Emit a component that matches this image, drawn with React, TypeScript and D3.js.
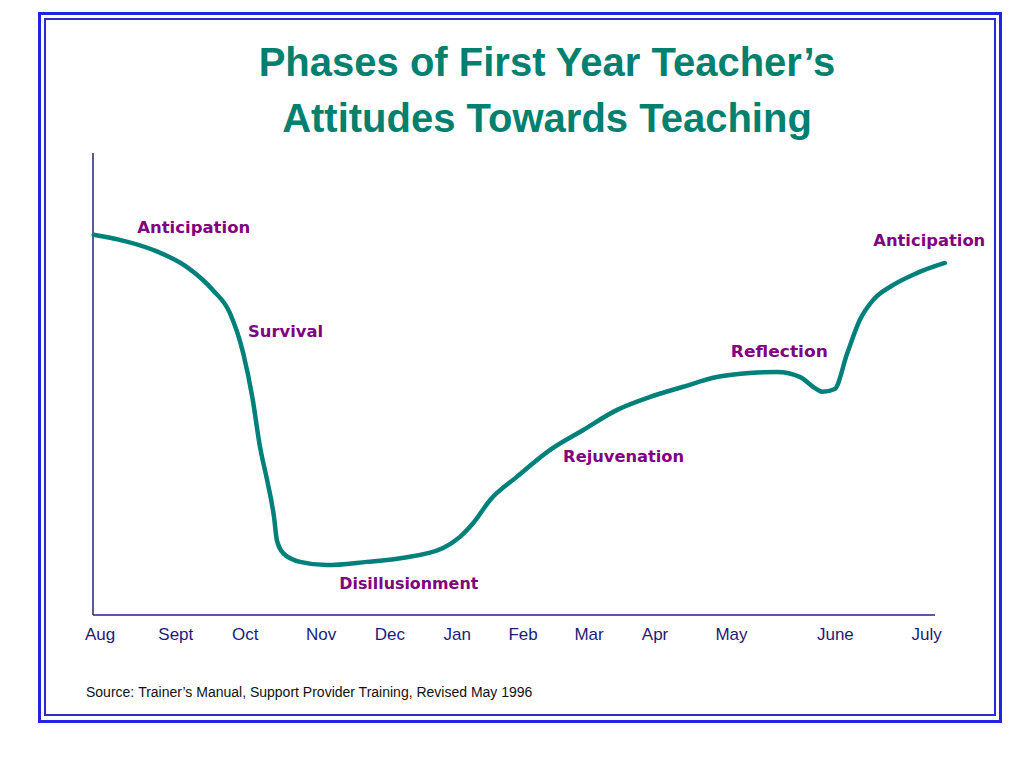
import * as d3 from 'd3'
import React from 'react'

// month labels and where they sit along the school year (in months from start)
const months = ['Aug', 'Sept', 'Oct', 'Nov', 'Dec', 'Jan', 'Feb', 'Mar', 'Apr', 'May', 'June', 'July']
const monthAt = [0.1, 1.18, 2.17, 3.25, 4.23, 5.19, 6.13, 7.07, 8.01, 9.1, 10.58, 11.88]

// attitude curve (x = months, y = attitude 0..100)
const curveX = [
  0.01, 0.38, 0.86, 1.34, 1.71, 1.95, 2.14, 2.27, 2.38, 2.49, 2.58, 2.62, 2.71, 2.95, 3.33, 3.9, 4.38,
  4.99, 5.23, 5.42, 5.66, 6.04, 6.51, 6.98, 7.47, 7.94, 8.41, 8.89, 9.36, 9.75, 10.08, 10.29, 10.4,
  10.57, 10.75, 10.93, 11.12, 11.4, 11.74, 12.14,
]
const curveY = [
  82.3, 81.2, 79.0, 75.3, 70.3, 65.4, 56.7, 47.2, 36.4, 28.6, 21.2, 16.2, 13.4, 11.5, 10.8, 11.5, 12.3,
  14.5, 16.9, 19.9, 24.9, 29.9, 35.7, 40.0, 44.4, 47.2, 49.4, 51.5, 52.4, 52.6, 51.5, 49.1, 48.3,
  48.9, 56.7, 63.9, 68.2, 71.4, 74.0, 76.2,
]

// phase names and the point where each label starts
const phases = ['Anticipation', 'Survival', 'Disillusionment', 'Rejuvenation', 'Reflection', 'Anticipation']
const phaseX = [0.63, 2.21, 3.51, 6.7, 9.09, 11.12]
const phaseY = [82.7, 60.2, 5.6, 33.1, 55.8, 79.9]
const phaseWidth = [113, 75, 139, 121, 97, 112]

const titleLines = ['Phases of First Year Teacher\u2019s', 'Attitudes Towards Teaching']
const source = 'Source:\u00a0Trainer\u2019s Manual, Support Provider Training, Revised May 1996'

const W = 1024
const H = 768
const margin = { left: 93, right: 89, top: 153, bottom: 153 }

const App = () => {
  const x = d3.scaleLinear().domain([0, 12]).range([margin.left, W - margin.right])
  const y = d3.scaleLinear().domain([0, 100]).range([H - margin.bottom, margin.top])

  const pts: [number, number][] = curveX.map((v, i) => [v, curveY[i]])
  const line = d3
    .line<[number, number]>()
    .x((d) => x(d[0]))
    .y((d) => y(d[1]))
    .curve(d3.curveMonotoneX)

  const axisColor = '#24247a'

  return (
    <svg
      width={W}
      height={H}
      style={{ position: 'absolute', left: 0, top: 0, background: '#fff' }}
    >
      {/* double frame */}
      <rect x={39.5} y={13.5} width={961} height={708} fill="none" stroke="#2323e6" strokeWidth={3} />
      <rect x={45} y={19} width={950} height={696} fill="none" stroke="#2a2ad0" strokeWidth={2} />

      {/* title */}
      {titleLines.map((t, i) => (
        <text
          key={i}
          x={547}
          y={76 + i * 56}
          textAnchor="middle"
          fontFamily="'Liberation Sans', Arial, sans-serif"
          fontWeight="bold"
          fontSize={40}
          fill="#00806f"
        >
          {t}
        </text>
      ))}

      {/* axes */}
      <line x1={x(0)} x2={x(0)} y1={y(100)} y2={y(0)} stroke={axisColor} strokeWidth={1.5} />
      <line x1={x(0)} x2={x(12)} y1={y(0)} y2={y(0)} stroke={axisColor} strokeWidth={1.5} />

      {months.map((m, i) => (
        <text
          key={m}
          x={x(monthAt[i])}
          y={y(0) + 25}
          textAnchor="middle"
          fontFamily="'Liberation Sans', Arial, sans-serif"
          fontSize={17}
          fill="#1c1c78"
        >
          {m}
        </text>
      ))}

      {/* curve */}
      <path d={line(pts) ?? ''} fill="none" stroke="#00807a" strokeWidth={4.5} strokeLinecap="round" />

      {/* phase labels */}
      {phases.map((p, i) => (
        <text
          key={i}
          x={x(phaseX[i])}
          y={y(phaseY[i])}
          fontFamily="'Comic Sans MS', 'DejaVu Sans', sans-serif"
          fontWeight="bold"
          fontSize={16}
          fill="#800080"
          textLength={phaseWidth[i]}
          lengthAdjust="spacingAndGlyphs"
        >
          {p}
        </text>
      ))}

      {/* source */}
      <text
        x={86}
        y={697}
        fontFamily="'Liberation Sans', Arial, sans-serif"
        fontSize={14}
        fill="#111"
      >
        {source}
      </text>
    </svg>
  )
}

export default App
